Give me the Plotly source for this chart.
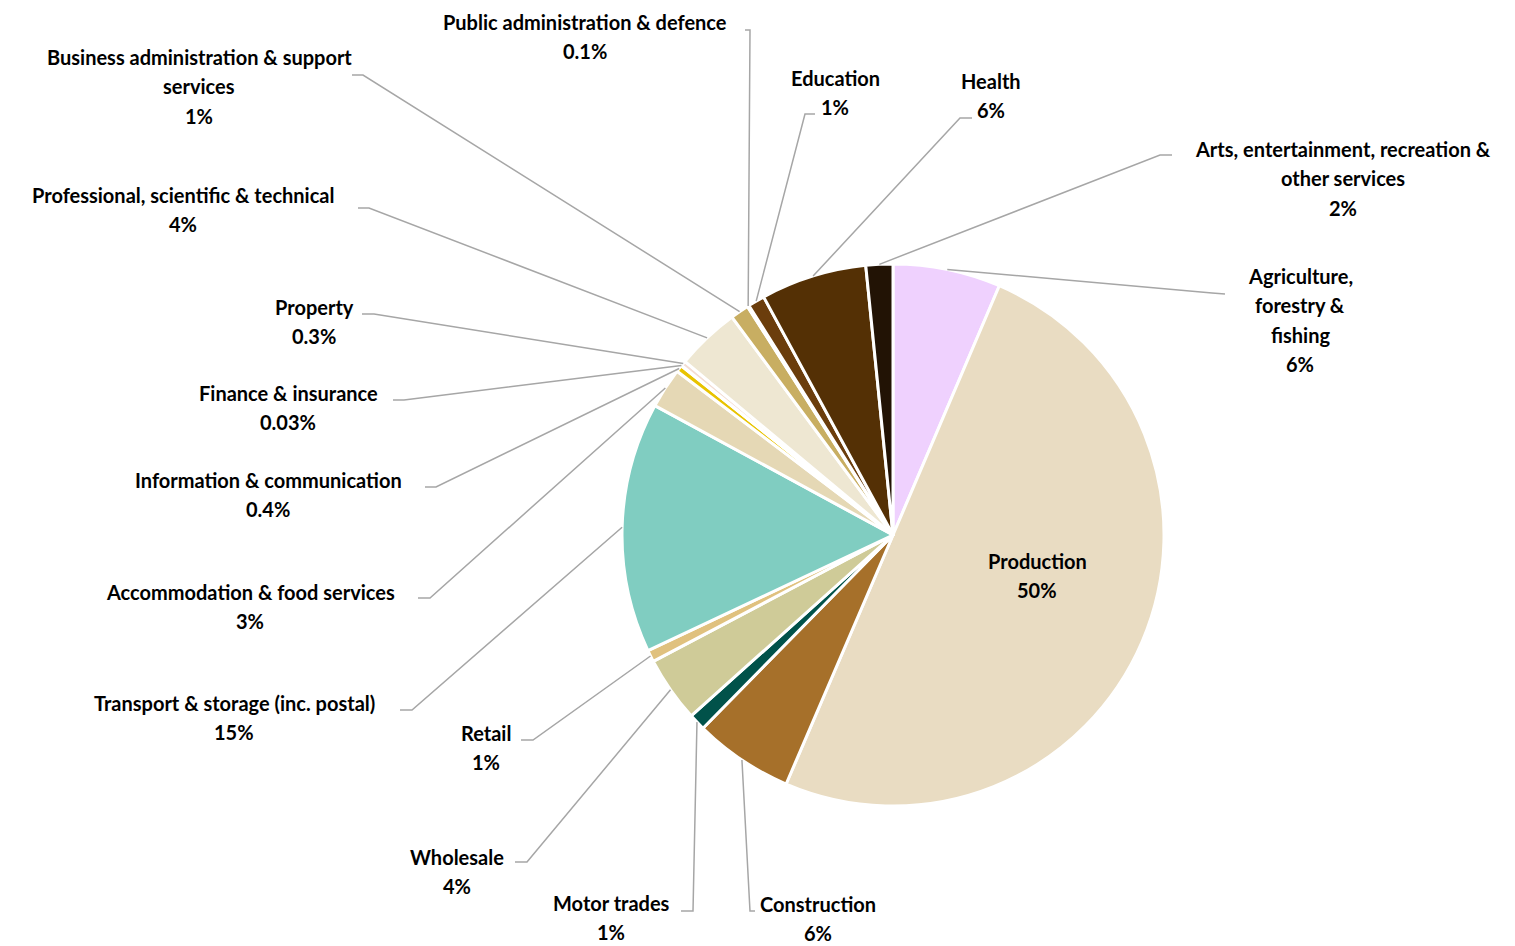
import plotly.graph_objects as go
import math

W, H = 1515, 946

# Sectors, clockwise from 12 o'clock
sectors = [
    "Agriculture,<br>forestry &<br>fishing",
    "Production",
    "Construction",
    "Motor trades",
    "Wholesale",
    "Retail",
    "Transport & storage (inc. postal)",
    "Accommodation & food services",
    "Information & communication",
    "Finance & insurance",
    "Property",
    "Professional, scientific & technical",
    "Business administration & support<br>services",
    "Public administration & defence",
    "Education",
    "Health",
    "Arts, entertainment, recreation &<br>other services",
]
shares = [6.4, 49.9, 5.9, 1.0, 3.9, 0.7, 14.9, 2.4, 0.4, 0.03, 0.3, 3.8, 1.1, 0.1, 1.0, 6.3, 1.6]
share_labels = ["6%", "50%", "6%", "1%", "4%", "1%", "15%", "3%", "0.4%", "0.03%",
                "0.3%", "4%", "1%", "0.1%", "1%", "6%", "2%"]

colors = ["#EFD1FE", "#E9DCC2", "#A6702A", "#01524A", "#CFCB98", "#E0C17E", "#80CDC1",
          "#E5D8B5", "#E8C300", "#F7EDE6", "#F3DDD3", "#EEE7D2", "#C8AE62", "#8C5A1E",
          "#6B3D0C", "#543005", "#221305"]

# pie geometry in pixels
CX, CY, R = 893, 535, 271

# label block: centre x, first-line centre y, label-side end of leader, elbow
label_pos = [
    (1300, 276, (1225, 294), (1212, 293)),
    (1037, 561, None, None),
    (818, 904, (755, 911), (750, 911)),
    (611, 903, (681, 911), (693, 911)),
    (457, 857, (515, 862), (527, 862)),
    (486, 733, (521, 740), (533, 740)),
    (234, 703, (400, 710), (412, 710)),
    (250, 592, (418, 598), (430, 598)),
    (268, 480, (425, 487), (436, 487)),
    (288, 393, (393, 400), (404, 400)),
    (314, 307, (362, 314), (374, 314)),
    (183, 195, (358, 208), (369, 208)),
    (199, 57, (352, 75), (363, 75)),
    (585, 22, (745, 30), (750, 30)),
    (835, 78, (815, 114), (805, 114)),
    (991, 81, (972, 118), (960, 118)),
    (1343, 149, (1172, 155), (1160, 155)),
]

LINE_H = 29.3


def px(x):
    return x / W


def py(y):
    return 1 - y / H


fig = go.Figure(go.Pie(
    labels=[s.replace("<br>", " ") for s in sectors],
    values=shares,
    sort=False,
    direction="clockwise",
    rotation=0,
    marker=dict(colors=colors, line=dict(color="white", width=3)),
    textinfo="none",
    hoverinfo="label+percent",
    showlegend=False,
    domain=dict(x=[px(CX - R), px(CX + R)], y=[py(CY + R), py(CY - R)]),
))

annotations = []
shapes = []
total = sum(shares)
cum = 0.0
for name, val, pct, (cx, y0, lend, elbow) in zip(sectors, shares, share_labels, label_pos):
    mid = (cum + val / 2) / total * 2 * math.pi
    cum += val
    lines = name.split("<br>") + [pct]
    for i, t in enumerate(lines):
        annotations.append(dict(
            x=px(cx), y=py(y0 + i * LINE_H), xref="paper", yref="paper",
            text=t, showarrow=False, xanchor="center", yanchor="middle",
            font=dict(family="Lato", size=20, color="#000000", weight="bold"),
        ))
    if lend is None:
        continue
    sx = CX + R * math.sin(mid)
    sy = CY - R * math.cos(mid)
    path = "M {:.5f},{:.5f} L {:.5f},{:.5f} L {:.5f},{:.5f}".format(
        px(lend[0]), py(lend[1]), px(elbow[0]), py(elbow[1]), px(sx), py(sy))
    shapes.append(dict(type="path", path=path, xref="paper", yref="paper",
                       line=dict(color="#A6A6A6", width=1.5)))

fig.update_layout(
    width=W, height=H,
    margin=dict(l=0, r=0, t=0, b=0),
    paper_bgcolor="white",
    plot_bgcolor="white",
    annotations=annotations,
    shapes=shapes,
)

fig.write_html("out.html")
